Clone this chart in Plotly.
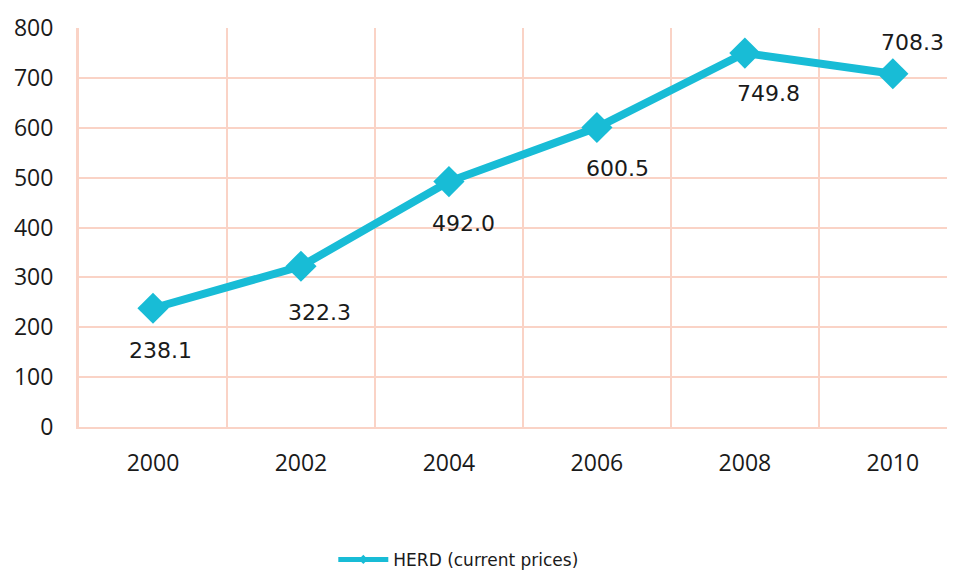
import plotly.graph_objects as go

years = ["2000", "2002", "2004", "2006", "2008", "2010"]
herd = [238.1, 322.3, 492.0, 600.5, 749.8, 708.3]
series_name = "HERD (current prices)"

# label offsets (pixels) as placed in the reference
label_dx = [8, 19, 15, 21, 24, 20]
label_dy = [-42, -46, -42, -41, -40, 31]

grid = "#FAD3C6"
line_col = "#18BCD6"
txt = "#1a1a1a"

fig = go.Figure()
fig.add_trace(go.Scatter(
    x=years, y=herd, mode="lines+markers", name=series_name, showlegend=False,
    line=dict(color=line_col, width=8),
    marker=dict(symbol="diamond", size=24, color=line_col),
    cliponaxis=False,
))
# legend entry with a small marker, as in the reference
fig.add_trace(go.Scatter(
    x=[None], y=[None], mode="lines+markers", name=series_name,
    line=dict(color=line_col, width=5),
    marker=dict(symbol="diamond", size=7, color=line_col),
))

for i, (v, dx, dy) in enumerate(zip(herd, label_dx, label_dy)):
    fig.add_annotation(x=i, y=v, text=f"{v:.1f}", showarrow=False,
                       xshift=dx, yshift=dy,
                       font=dict(family="DejaVu Sans", size=22, color=txt))

fig.update_layout(
    width=955, height=570,
    margin=dict(l=71, r=8, t=20, b=151, autoexpand=False),
    paper_bgcolor="white", plot_bgcolor="white",
    showlegend=True,
    legend=dict(orientation="h", x=0.433, xanchor="center", y=-0.333, yanchor="middle",
                font=dict(family="DejaVu Sans", size=17, color=txt),
                itemwidth=50),
    xaxis=dict(type="category", range=[-0.5, 5.42], tickson="boundaries",
               showgrid=True, gridcolor=grid, gridwidth=1.5,
               showline=True, linecolor=grid, linewidth=2,
               ticks="", ticklabelstandoff=14,
               automargin=False,
               tickfont=dict(family="Open Sans", size=23, color=txt)),
    yaxis=dict(range=[0, 800], dtick=100,
               showgrid=True, gridcolor=grid, gridwidth=1.5,
               showline=True, linecolor=grid, linewidth=3,
               zeroline=False, automargin=False,
               ticks="", ticklabelstandoff=18,
               tickfont=dict(family="Open Sans", size=23, color=txt)),
)
fig.write_html("out.html")
